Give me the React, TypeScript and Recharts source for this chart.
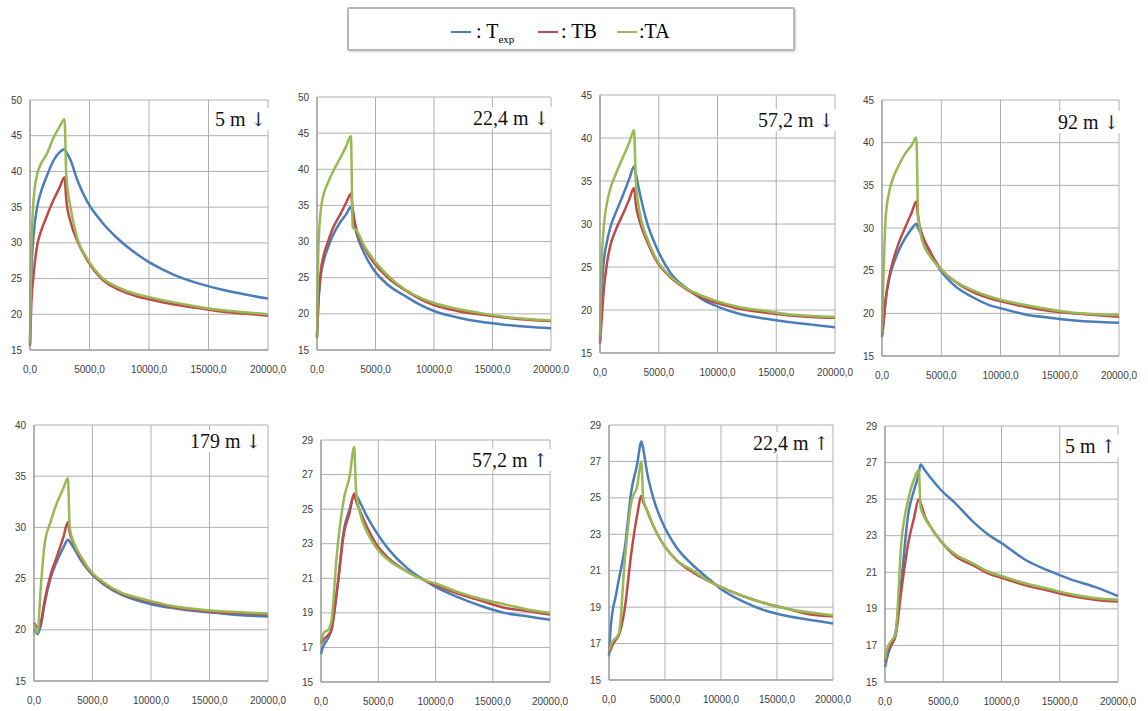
import React from "react";
import { LineChart, Line, XAxis, YAxis, CartesianGrid } from "recharts";

// time (s), shared by every panel
const TIME = [0, 100, 300, 600, 900, 1400, 2000, 2500, 2900, 3050, 3400, 4000, 4800, 6000, 7500, 9000, 10000, 12000, 14000, 16000, 18000, 20000];
const X_TICKS = [0, 5000, 10000, 15000, 20000];

// 5 m down
const exp5Down = [16, 25, 31, 35, 37, 39.3, 41.6, 42.7, 43.1, 42.7, 41.6, 38.7, 35.8, 33.0, 30.4, 28.4, 27.3, 25.6, 24.4, 23.5, 22.8, 22.2];
const tb5Down = [15.6, 21, 25.5, 29.6, 31.5, 33.7, 36.1, 37.8, 39.2, 36, 33, 30.2, 27.6, 25.0, 23.4, 22.5, 22.1, 21.4, 20.9, 20.4, 20.1, 19.8];
const ta5Down = [16, 28, 36, 39.6, 41, 42.4, 44.8, 46.3, 47.3, 39.5, 35, 30.5, 27.8, 25.2, 23.7, 22.8, 22.4, 21.7, 21.1, 20.6, 20.3, 20.0];

// 22,4 m down
const exp22Down = [16.8, 21, 25, 27.5, 29, 31, 32.7, 33.8, 34.8, 33.6, 31, 28.5, 26.2, 24.1, 22.5, 21.1, 20.4, 19.5, 18.9, 18.5, 18.2, 18.0];
const tb22Down = [16.8, 21, 25.5, 28.3, 29.8, 32, 33.8, 35.4, 36.6, 34.5, 31.5, 29.3, 27.2, 25.1, 23.3, 21.9, 21.2, 20.4, 19.9, 19.5, 19.2, 19.0];
const ta22Down = [16.6, 28, 34, 36.7, 38, 39.8, 41.6, 43.2, 44.6, 32, 31.5, 29.5, 27.6, 25.4, 23.4, 22.1, 21.5, 20.7, 20.1, 19.6, 19.3, 19.1];

// 57,2 m down
const exp57Down = [16.5, 21, 25.3, 28, 29.7, 31.5, 33.5, 35.3, 36.7, 35.8, 33.5, 30.2, 27.3, 24.3, 22.4, 21.0, 20.4, 19.5, 19.0, 18.6, 18.3, 18.0];
const tb57Down = [16.1, 18, 22, 25.5, 27.6, 29.5, 31.3, 32.9, 34.2, 32.3, 30.2, 28, 25.7, 23.8, 22.3, 21.2, 20.8, 20.1, 19.7, 19.4, 19.2, 19.1];
const ta57Down = [16.9, 24, 29.3, 32.5, 34.2, 36.0, 37.9, 39.5, 40.9, 35, 31.2, 28.4, 25.9, 23.9, 22.4, 21.5, 21.0, 20.3, 19.9, 19.5, 19.3, 19.2];

// 92 m down
const exp92Down = [17.2, 18.5, 21.5, 24, 25.5, 27.3, 28.9, 29.9, 30.5, 30.0, 29, 27.3, 25.3, 23.4, 22.0, 21.0, 20.6, 19.9, 19.5, 19.2, 19.0, 18.9];
const tb92Down = [17.6, 18.5, 21.5, 24.2, 26.0, 28.2, 30.2, 31.8, 33.1, 31.2, 29.2, 27.4, 25.5, 23.9, 22.6, 21.8, 21.4, 20.8, 20.3, 20.0, 19.8, 19.6];
const ta92Down = [17.8, 23, 31, 34.2, 35.7, 37.3, 38.8, 39.7, 40.6, 31.5, 28.5, 26.8, 25.4, 23.9, 22.8, 22.0, 21.6, 21.0, 20.5, 20.1, 19.9, 19.8];

// 179 m down
const exp179Down = [20.1, 19.9, 19.6, 20.5, 22.5, 25.0, 26.8, 28.0, 28.8, 28.6, 28.0, 26.8, 25.6, 24.4, 23.4, 22.8, 22.5, 22.1, 21.8, 21.6, 21.4, 21.3];
const tb179Down = [20.7, 20.5, 20.2, 20.8, 22.8, 25.3, 27.3, 29.0, 30.5, 29.5, 28.4, 27.0, 25.7, 24.5, 23.5, 23.0, 22.7, 22.2, 21.9, 21.7, 21.6, 21.5];
const ta179Down = [20.6, 20.2, 19.7, 24.5, 28.3, 30.5, 32.5, 33.8, 34.8, 30.0, 28.5, 27.2, 25.8, 24.6, 23.6, 23.1, 22.8, 22.3, 22.0, 21.8, 21.7, 21.6];

// 57,2 m up
const exp57Up = [16.6, 16.9, 17.2, 17.5, 18.0, 20.3, 23.8, 25.0, 25.8, 25.8, 25.4, 24.6, 23.7, 22.6, 21.6, 20.9, 20.5, 19.9, 19.4, 19.0, 18.8, 18.6];
const tb57Up = [17.2, 17.3, 17.5, 17.7, 18.0, 20.3, 23.6, 24.8, 25.9, 25.5, 24.9, 24.0, 23.0, 22.1, 21.4, 20.9, 20.6, 20.1, 19.7, 19.3, 19.1, 18.9];
const ta57Up = [17.2, 17.6, 17.9, 18.0, 18.5, 22.5, 25.6, 26.9, 28.6, 26.2, 24.8, 23.7, 22.8, 22.0, 21.4, 20.9, 20.7, 20.2, 19.8, 19.5, 19.2, 19.0];

// 22,4 m up
const exp22Up = [16.3, 17.5, 18.7, 19.6, 20.6, 22.2, 25.4, 26.8, 28.1, 27.7, 26.4, 24.9, 23.6, 22.3, 21.3, 20.5, 20.0, 19.3, 18.8, 18.5, 18.3, 18.1];
const tb22Up = [16.5, 16.6, 16.9, 17.2, 17.5, 18.9, 22.0, 24.0, 25.1, 24.8, 24.3, 23.4, 22.5, 21.6, 20.9, 20.4, 20.1, 19.6, 19.2, 18.9, 18.6, 18.5];
const ta22Up = [16.6, 16.8, 17.1, 17.3, 17.6, 21.5, 24.8, 25.6, 27.0, 25.0, 24.3, 23.4, 22.5, 21.6, 21.0, 20.4, 20.1, 19.6, 19.2, 18.9, 18.7, 18.55];

// 5 m up
const exp5Up = [15.8, 16.1, 16.6, 17.1, 17.7, 20.5, 24.2, 25.5, 26.4, 26.9, 26.6, 26.1, 25.5, 24.8, 23.8, 23.0, 22.6, 21.7, 21.1, 20.6, 20.2, 19.7];
const tb5Up = [16.1, 16.4, 16.8, 17.1, 17.5, 20.0, 22.6, 24.0, 25.0, 24.8, 24.1, 23.4, 22.7, 21.9, 21.4, 20.9, 20.7, 20.3, 20.0, 19.7, 19.5, 19.4];
const ta5Up = [16.2, 16.6, 17.0, 17.3, 17.6, 22.6, 25.0, 26.1, 26.6, 24.6, 24.0, 23.4, 22.7, 22.0, 21.5, 21.0, 20.8, 20.4, 20.1, 19.8, 19.6, 19.5];

const TICKS_50 = [15, 20, 25, 30, 35, 40, 45, 50];
const TICKS_45 = [15, 20, 25, 30, 35, 40, 45];
const TICKS_40 = [15, 20, 25, 30, 35, 40];
const TICKS_29 = [15, 17, 19, 21, 23, 25, 27, 29];

const BLUE = "#4a7ebb";
const RED = "#be4b48";
const GREEN = "#98b954";

const panels = [
  { label: "5 m", arrow: "↓", exp: exp5Down, tb: tb5Down, ta: ta5Down, ticks: TICKS_50, x: 30, y: 100, w: 238, h: 250, lx: 212, ly: 108 },
  { label: "22,4 m", arrow: "↓", exp: exp22Down, tb: tb22Down, ta: ta22Down, ticks: TICKS_50, x: 317, y: 97, w: 234, h: 253, lx: 470, ly: 107 },
  { label: "57,2 m", arrow: "↓", exp: exp57Down, tb: tb57Down, ta: ta57Down, ticks: TICKS_45, x: 600, y: 95, w: 235, h: 258, lx: 755, ly: 109 },
  { label: "92 m", arrow: "↓", exp: exp92Down, tb: tb92Down, ta: ta92Down, ticks: TICKS_45, x: 882, y: 100, w: 237, h: 256, lx: 1055, ly: 111 },
  { label: "179 m", arrow: "↓", exp: exp179Down, tb: tb179Down, ta: ta179Down, ticks: TICKS_40, x: 34, y: 425, w: 234, h: 256, lx: 187, ly: 430 },
  { label: "57,2 m", arrow: "↑", exp: exp57Up, tb: tb57Up, ta: ta57Up, ticks: TICKS_29, x: 321, y: 440, w: 229, h: 242, lx: 469, ly: 449 },
  { label: "22,4 m", arrow: "↑", exp: exp22Up, tb: tb22Up, ta: ta22Up, ticks: TICKS_29, x: 609, y: 425, w: 224, h: 255, lx: 750, ly: 432 },
  { label: "5 m", arrow: "↑", exp: exp5Up, tb: tb5Up, ta: ta5Up, ticks: TICKS_29, x: 885, y: 426, w: 233, h: 256, lx: 1062, ly: 435 },
];

const tickStyle = { fontSize: 10, fill: "#404040", fontFamily: "'Liberation Sans', Arial, sans-serif" };
const fmt = (v: number) => v.toFixed(1).replace(".", ",");

function Panel({ p }: { p: (typeof panels)[number] }) {
  const data = TIME.map((t, i) => ({ t, exp: p.exp[i], tb: p.tb[i], ta: p.ta[i] }));
  const min = p.ticks[0];
  const max = p.ticks[p.ticks.length - 1];
  return (
    <>
      <div style={{ position: "absolute", left: p.x - 30, top: p.y - 10 }}>
        <LineChart width={p.w + 55} height={p.h + 40} data={data} margin={{ top: 10, right: 25, left: 0, bottom: 0 }}>
          <CartesianGrid stroke="#b0b0b0" />
          <XAxis
            dataKey="t"
            type="number"
            domain={[0, 20000]}
            ticks={X_TICKS}
            interval={0}
            tickFormatter={fmt}
            tick={tickStyle}
            tickLine={false}
            tickMargin={10}
            axisLine={{ stroke: "#8c8c8c" }}
            height={30}
          />
          <YAxis
            type="number"
            domain={[min, max]}
            ticks={p.ticks}
            interval={0}
            tick={tickStyle}
            tickLine={false}
            axisLine={{ stroke: "#8c8c8c" }}
            width={30}
          />
          <Line dataKey="exp" stroke={BLUE} strokeWidth={2.5} dot={false} type="monotone" isAnimationActive={false} />
          <Line dataKey="tb" stroke={RED} strokeWidth={2.5} dot={false} type="monotone" isAnimationActive={false} />
          <Line dataKey="ta" stroke={GREEN} strokeWidth={2.5} dot={false} type="monotone" isAnimationActive={false} />
        </LineChart>
      </div>
      <div
        style={{
          position: "absolute",
          left: p.lx,
          top: p.ly,
          padding: "0 3px",
          background: "#fff",
          font: "20px 'Liberation Serif', 'Times New Roman', serif",
          lineHeight: "22px",
          color: "#111",
          whiteSpace: "nowrap",
        }}
      >
        {p.label} <span style={{ fontFamily: "'DejaVu Serif', serif", fontSize: 19, color: "#1a2a40" }}>{p.arrow}</span>
      </div>
    </>
  );
}

function LegendSwatch({ color, left }: { color: string; left: number }) {
  return <div style={{ position: "absolute", left, top: 31, width: 20, height: 2, background: color }} />;
}

export default function App() {
  const serif = "20px 'Liberation Serif', 'Times New Roman', serif";
  return (
    <div style={{ position: "absolute", left: 0, top: 0, width: 1148, height: 711, background: "#fff", overflow: "hidden" }}>
      <div
        style={{
          position: "absolute",
          left: 347,
          top: 7,
          width: 444,
          height: 40,
          border: "2px solid #b8b8b8",
          borderRadius: 2,
          boxShadow: "1px 1px 2px #d0d0d0",
        }}
      />
      <LegendSwatch color={BLUE} left={451} />
      <div style={{ position: "absolute", left: 476, top: 21, font: serif, lineHeight: "20px", whiteSpace: "nowrap" }}>
        : T<sub style={{ fontSize: 11 }}>exp</sub>
      </div>
      <LegendSwatch color={RED} left={538} />
      <div style={{ position: "absolute", left: 561, top: 21, font: serif, lineHeight: "20px" }}>: TB</div>
      <LegendSwatch color={GREEN} left={617} />
      <div style={{ position: "absolute", left: 639, top: 21, font: serif, lineHeight: "20px" }}>:TA</div>
      {panels.map((p) => (
        <Panel key={p.label + p.arrow} p={p} />
      ))}
    </div>
  );
}
